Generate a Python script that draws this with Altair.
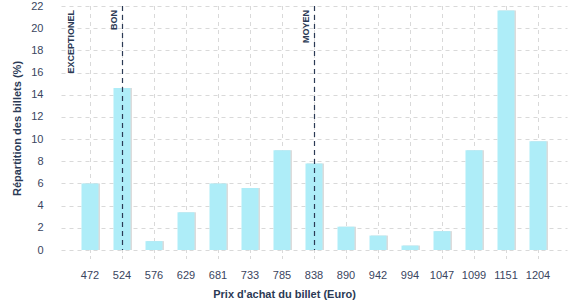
import altair as alt
import pandas as pd

prices = ["472", "524", "576", "629", "681", "733", "785", "838", "890", "942", "994", "1047", "1099", "1151", "1204"]
shares = [6.0, 14.6, 0.8, 3.4, 6.0, 5.6, 9.0, 7.8, 2.1, 1.3, 0.4, 1.7, 9.0, 21.6, 9.8]

far_label_prices = ["472"]
far_labels = ["EXCEPTIONEL"]
near_label_prices = ["524", "838"]
near_labels = ["BON", "MOYEN"]
marker_rules = ["524", "838"]
y_top = 22
y_ticks = list(range(0, 23, 2))

df = pd.DataFrame({"prix": prices, "part": shares})
far = pd.DataFrame({"prix": far_label_prices, "label": far_labels})
near = pd.DataFrame({"prix": near_label_prices, "label": near_labels})
rl = pd.DataFrame({"prix": marker_rules})

FONT = "Liberation Sans"
NAVY = "#2b3a55"
GRID = "#d9d9d9"

xscale = alt.Scale(domain=prices, paddingInner=0, paddingOuter=0.40625)
yscale = alt.Scale(domain=[0, y_top], nice=False)

xaxis = alt.Axis(
    title="Prix d'achat du billet (Euro)", labelAngle=0,
    grid=False, ticks=False, domain=False,
    labelPadding=19, titlePadding=8, titleX=223,
)
yaxis = alt.Axis(
    title="Répartition des billets (%)", values=y_ticks, tickCount=12,
    labelOverlap=False,
    grid=True, gridDash=[4, 4], gridColor=GRID,
    ticks=False, domain=False, labelPadding=18, titlePadding=8,
)

X = alt.X("prix:N", scale=xscale, axis=xaxis, sort=prices)
Y = alt.Y("part:Q", scale=yscale, axis=yaxis)
YT = alt.YDatum(y_top, scale=yscale, axis=yaxis)
Y0 = alt.YDatum(0, scale=yscale, axis=yaxis)

vgrid = alt.Chart(df).mark_rule(color=GRID, strokeDash=[4, 4], strokeWidth=1, xOffset=0.5).encode(x=X)
vticks = alt.Chart(df).mark_rule(color=GRID, strokeDash=[3, 3], strokeWidth=1, xOffset=0.5,
                                 y2Offset=12).encode(x=X, y=Y0, y2=alt.Y2Datum(0))
shadow = alt.Chart(df).mark_bar(width=17, color="#dcdcdc", xOffset=1.5).encode(x=X, y=Y)
bars = alt.Chart(df).mark_bar(width=17, color="#aeedf8").encode(x=X, y=Y)
rules = alt.Chart(rl).mark_rule(color=NAVY, strokeDash=[5, 4], strokeWidth=1.2, xOffset=0.5).encode(x=X)

text_style = dict(angle=270, align="right", baseline="bottom", font=FONT, fontSize=9,
                  fontWeight="bold", color=NAVY, yOffset=4)
texts_far = alt.Chart(far).mark_text(xOffset=-14, **text_style).encode(x=X, y=YT, text="label:N")
texts_near = alt.Chart(near).mark_text(xOffset=-3, **text_style).encode(x=X, y=YT, text="label:N")

chart = alt.layer(vgrid, vticks, shadow, bars, rules, texts_far, texts_near).properties(
    width=506, height=244,
    autosize=alt.AutoSizeParams(type="none"),
    padding={"left": 61, "top": 6, "right": 10, "bottom": 50},
).configure_view(stroke=None).configure_axis(
    labelFont=FONT, titleFont=FONT, labelFontSize=11, titleFontSize=11,
    labelColor="#3a4560", titleColor=NAVY, titleFontWeight="bold",
)

chart.save("out.html", embed_options={"renderer": "svg", "actions": False})
